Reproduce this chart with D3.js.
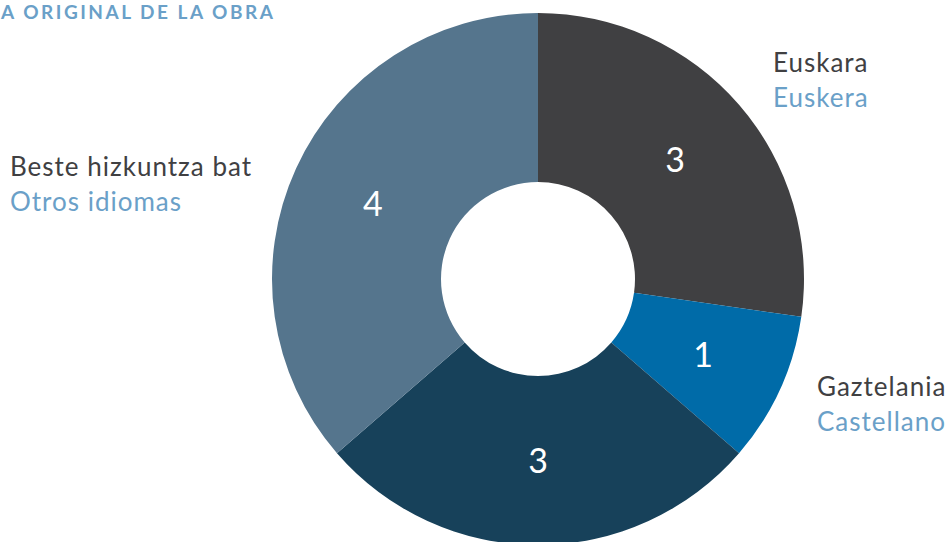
<!DOCTYPE html>
<html>
<head>
<meta charset="utf-8">
<script src="https://cdn.jsdelivr.net/npm/d3@7/dist/d3.min.js"></script>
<style>
  html, body { margin: 0; padding: 0; background: #fff; }
  svg { display: block; font-family: Lato, "Open Sans", sans-serif; }
</style>
</head>
<body>
<svg id="chart" width="952" height="542"></svg>
<script>
// Works by original language
const categories = ["Euskara", "Gaztelania", "Ez dago", "Beste hizkuntza bat"];
const subLabels  = ["Euskera", "Castellano", "", "Otros idiomas"];
const values     = [3, 1, 3, 4];
const colors     = ["#404042", "#006BA8", "#17415A", "#55758D"];
const title      = "A ORIGINAL DE LA OBRA";

const svg = d3.select("#chart");
const cx = 538, cy = 279, outerR = 266, innerR = 97;

svg.append("text")
  .attr("x", 1).attr("y", 19)
  .attr("fill", "#6AA0C8")
  .attr("font-weight", 700)
  .attr("font-size", 19)
  .attr("letter-spacing", 2.5)
  .text(title);

const pie = d3.pie().sort(null).value(d => d)(values);
const arc = d3.arc().innerRadius(innerR).outerRadius(outerR);

const g = svg.append("g").attr("transform", `translate(${cx},${cy})`);

g.selectAll("path").data(pie).join("path")
  .attr("d", arc)
  .attr("fill", (d, i) => colors[i]);

g.selectAll("text.val").data(pie).join("text")
  .attr("class", "val")
  .attr("transform", d => `translate(${arc.centroid(d)})`)
  .attr("text-anchor", "middle")
  .attr("dy", "0.36em")
  .attr("fill", "#fff")
  .attr("font-size", 34)
  .attr("font-weight", 400)
  .text(d => d.data);

// Outside category labels (Basque / Spanish)
const labelPos = [
  { i: 0, x: 773, y: 72 },
  { i: 1, x: 817, y: 396 },
  { i: 3, x: 10, y: 176 }
];
labelPos.forEach(p => {
  const t = svg.append("text")
    .attr("x", p.x).attr("y", p.y)
    .attr("font-size", 26)
    .attr("letter-spacing", 1);
  t.append("tspan").attr("x", p.x).attr("fill", "#404042").text(categories[p.i]);
  t.append("tspan").attr("x", p.x).attr("dy", 35).attr("fill", "#6AA0C8").text(subLabels[p.i]);
});
</script>
</body>
</html>
